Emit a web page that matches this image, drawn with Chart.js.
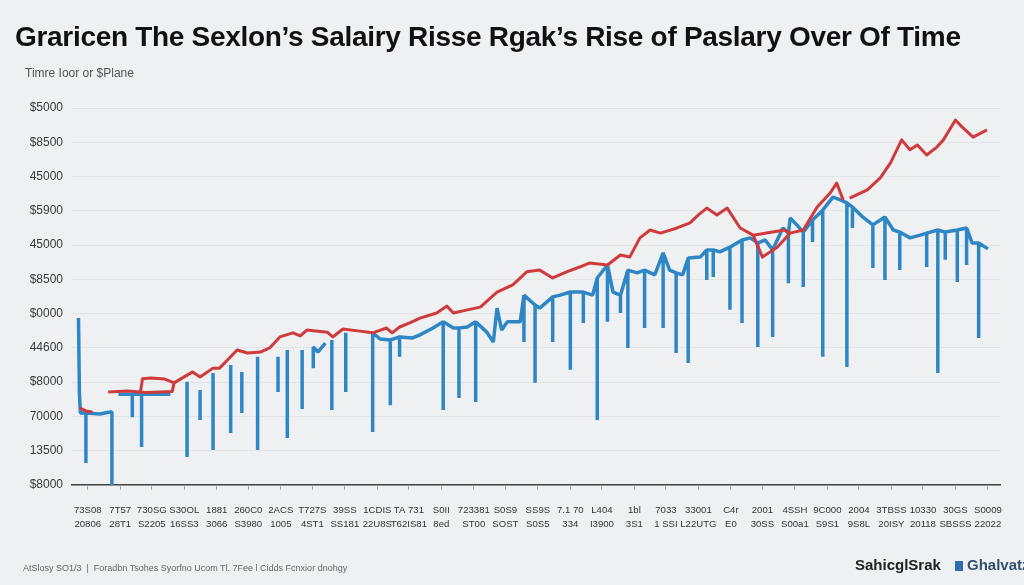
<!DOCTYPE html>
<html>
<head>
<meta charset="utf-8">
<script src="https://cdn.jsdelivr.net/npm/chart.js@4.4.1/dist/chart.umd.min.js"></script>
<style>
  html, body { margin: 0; padding: 0; }
  body { width: 1024px; height: 585px; overflow: hidden; background: #eef0f2; position: relative; font-family: "Liberation Sans", Arial, sans-serif; }
  #chart { position: absolute; left: 0; top: 0; }
  .title { position: absolute; left: 15px; top: 21px; font-size: 28px; font-weight: bold; color: #111; white-space: nowrap; letter-spacing: -0.3px; }
  .subtitle { position: absolute; left: 25px; top: 66px; font-size: 12px; color: #555; white-space: nowrap; }
  .source { position: absolute; left: 23px; top: 563px; font-size: 9px; color: #666; white-space: nowrap; }
  .brand { position: absolute; top: 556px; font-size: 15px; font-weight: bold; white-space: nowrap; }
  .brand-mark { position: absolute; left: 955px; top: 561px; width: 8px; height: 10px; background: #2f6fb0; }
</style>
</head>
<body>
<canvas id="chart" width="1024" height="585"></canvas>
<div class="title">Graricen The Sexlon’s Salairy Risse Rgak’s Rise of Paslary Over Of Time</div>
<div class="subtitle">Timre Ioor or $Plane</div>
<div class="source">AtSlosy SO1/3 &nbsp;|&nbsp; Foradbn Tsohes Syorfno Ucom Tl. 7Fee l Cidds Fcnxior dnohgy</div>
<div class="brand" style="left:855px;color:#222;">SahicglSrak</div>
<div class="brand-mark"></div>
<div class="brand" style="left:967px;color:#34506e;">Ghalvatz</div>

<script>
// y tick labels, bottom to top
const yTickLabels = ["$8000", "13500", "70000", "$8000", "44600", "$0000",
                     "$8500", "45000", "$5900", "45000", "$8500", "$5000"];

// x tick labels (two rows) and where they sit on the x scale
const xTickPos = [1.7, 5.2, 8.6, 12.1, 15.6, 19.0, 22.5, 25.9, 29.4, 32.9,
                  36.3, 39.8, 43.3, 46.7, 50.2, 53.7, 57.1, 60.6, 64.0, 67.5,
                  71.0, 74.4, 77.9, 81.4, 84.8, 88.3, 91.7, 95.2, 98.7];
const xRow1 = ["73S08", "7T57", "730SG", "S30OL", "1881", "260C0", "2ACS", "T727S", "39SS", "1CDIS",
               "TA 731", "S0II", "723381", "S0S9", "SS9S", "7.1 70", "L404", "1bl", "7033", "33001",
               "C4r", "2001", "4SSH", "9C000", "2004", "3TBSS", "10330", "30GS", "S0009"];
const xRow2 = ["20806", "28T1", "S2205", "16SS3", "3066", "S3980", "1005", "4ST1", "SS181", "22U8S",
               "T62IS81", "8ed", "ST00", "SOST", "S0S5", "334", "I3900", "3S1", "1 SSI", "L22UTG",
               "E0", "30SS", "S00a1", "S9S1", "9S8L", "20ISY", "20118", "SBSSS", "22022"];

// red series (salary)
const salaryX = [0.8, 1.5, 2.2, 3.0, 3.9, 6.0, 8.0, 10.8, 11.0, 10.0,
                 8.5, 7.6, 7.4, 7.6, 8.5, 10.0, 11.0, 13.0, 13.8, 15.2,
                 15.9, 17.8, 18.9, 20.3, 21.3, 22.4, 23.8, 24.6, 25.3, 27.5,
                 28.1, 29.2, 31.0, 32.4, 33.9, 34.5, 35.3, 36.4, 37.5, 39.3,
                 40.4, 41.1, 42.6, 44.0, 45.8, 47.5, 49.0, 50.4, 51.8, 53.3,
                 54.7, 55.8, 57.7, 59.1, 60.1, 61.2, 62.3, 63.4, 65.2, 66.6,
                 67.5, 68.4, 69.5, 70.6, 72.0, 73.4, 76.8, 77.4, 76.0, 74.4,
                 73.4, 74.4, 76.0, 77.4, 78.8, 80.3, 81.7, 82.4, 83.1, 83.5,
                 83.8, 85.7, 87.1, 88.2, 89.4, 90.3, 91.1, 92.1, 93.2, 93.9,
                 95.2, 95.9, 97.1, 98.6];
const salaryY = [22.5, 21.6, 21.3, null, 27.1, 27.4, 27.0, 27.3, 29.8, 30.9,
                 31.2, 31.0, 27.6, 31.0, 31.2, 30.9, 29.8, 33.0, 31.5, 34.1,
                 34.1, 39.4, 38.5, 38.8, 40.0, 43.2, 44.4, 43.5, 45.2, 44.6,
                 43.2, 45.5, 44.9, 44.4, 45.8, 44.4, 46.1, 47.3, 48.7, 50.2,
                 52.2, 50.2, 51.1, 51.9, 56.3, 58.4, 62.2, 62.7, 60.4, 62.2,
                 63.6, 64.8, 64.2, 67.1, 66.5, 72.1, 74.4, 73.5, 75.0, 76.5,
                 78.8, 80.8, 78.8, 80.8, 75.0, 72.9, 74.4, 73.5, 69.4, 66.5,
                 72.9, 66.5, 69.4, 73.5, 74.4, 81.1, 85.2, 88.1, 83.2, null,
                 83.7, 86.1, 89.6, 94.0, 100.7, 97.8, 99.2, 96.3, 98.6, 100.7,
                 106.5, 104.5, 101.5, 103.6];

// blue series: main line, plus the low value each downward spike reaches (null = no spike)
const adjX = [0.7, 0.8, 0.9, 1.5, 3.0, 4.1, 4.3, 4.6, 5.0, 6.5,
              7.5, 10.6, 11.5, 12.4, 13.1, 13.8, 14.5, 15.2, 16.1, 17.1,
              17.7, 18.3, 19.1, 20.0, 21.1, 22.2, 22.7, 23.2, 24.0, 24.8,
              25.4, 26.0, 26.5, 27.3, 27.6, 28.0, 28.7, 29.5, 31.0, 32.4,
              33.2, 34.3, 35.3, 36.7, 37.5, 38.9, 40.0, 41.1, 41.7, 42.6,
              43.5, 44.7, 45.4, 45.8, 46.3, 46.9, 48.3, 48.7, 49.9, 50.4,
              51.8, 52.6, 53.7, 55.1, 56.1, 56.6, 57.7, 58.3, 59.1, 59.9,
              60.9, 61.7, 62.8, 63.7, 64.4, 65.1, 65.8, 66.4, 67.7, 68.4,
              69.1, 69.8, 70.9, 72.2, 73.1, 73.9, 74.7, 75.5, 76.6, 77.2,
              77.4, 78.1, 78.8, 79.8, 80.9, 82.0, 82.8, 83.5, 84.1, 85.2,
              86.3, 87.6, 88.5, 89.2, 90.3, 91.4, 92.1, 93.3, 94.1, 95.4,
              96.4, 97.0, 97.7, 98.7];
const adjY = [48.7, 26.8, 21.0, 21.0, 20.7, 21.3, 21.3, null, 26.5, 26.5,
              26.5, 26.5, null, 30.1, null, 27.7, null, 32.7, null, 35.0,
              null, 33.0, null, 37.4, null, 37.4, null, 39.4, null, 39.4,
              null, 40.3, 38.8, 41.4, null, 42.3, null, 44.4, null, 44.4,
              42.6, 42.3, 43.2, 42.9, 43.8, 45.8, 47.6, 45.8, 45.8, 46.1,
              47.6, 44.6, 41.7, 51.6, 45.2, 47.6, 47.6, 55.4, 52.5, 51.6,
              54.9, 55.4, 56.3, 56.3, 55.4, 60.4, 64.2, 56.3, 55.4, 62.7,
              61.9, 62.7, 61.3, 67.7, 62.7, 61.9, 61.3, 66.2, 66.5, 68.6,
              68.6, 68.0, 69.4, 71.5, 72.1, 70.6, 71.5, 68.6, 75.0, 73.5,
              77.9, 75.9, 73.8, 77.3, 80.2, 84.0, 83.2, 82.3, 81.1, 78.2,
              75.9, 78.2, 74.4, 73.8, 72.1, 72.9, 73.5, 74.4, 73.8, 74.4,
              75.0, 70.6, 70.6, 68.9];
const adjDip = [null, null, null, 6.4, null, null, 0, null, null, 19.8,
                11.1, null, null, 8.2, null, 19.0, null, 10.2, null, 15.2,
                null, 21.0, null, 10.2, null, 27.1, null, 13.7, null, 22.2,
                null, 34.1, null, null, null, 21.9, null, 27.1, null, 15.5,
                null, 23.3, 37.4, null, null, null, 21.9, null, 25.4, null,
                24.2, null, null, null, null, null, null, 41.7, 29.8, null,
                41.7, null, 33.6, 47.3, null, 19.0, 47.6, null, 50.2, 40.0,
                null, 45.8, null, 45.8, null, 38.5, null, 35.6, null, 59.8,
                60.7, null, 51.1, 47.3, null, 40.3, null, 43.2, null, 58.9,
                null, null, 57.8, 70.9, 37.4, null, null, 34.4, 75.0, null,
                63.3, 59.8, null, 62.7, null, null, 63.6, 32.7, 65.7, 59.2,
                64.2, null, 42.9, null];

const salaryPoints = salaryX.map((x, i) => ({ x: x, y: salaryY[i] }));

const adjPoints = [];
adjX.forEach((x, i) => {
  adjPoints.push({ x: x, y: adjY[i] });
  if (adjDip[i] !== null && adjY[i] !== null) {
    adjPoints.push({ x: x, y: adjDip[i] });
    adjPoints.push({ x: x, y: adjY[i] });
  }
});

const ctx = document.getElementById("chart");
new Chart(ctx, {
  type: "line",
  data: {
    datasets: [
      {
        label: "Salary",
        data: salaryPoints,
        borderColor: "#cf3a3c",
        borderWidth: 3,
        borderJoinStyle: "round",
        pointRadius: 0,
        tension: 0,
        spanGaps: false,
      },
      {
        label: "Adjusted",
        data: adjPoints,
        borderColor: "#2f86c5",
        borderWidth: 3.5,
        borderJoinStyle: "bevel",
        pointRadius: 0,
        tension: 0,
        spanGaps: false,
      },
    ],
  },
  options: {
    responsive: false,
    devicePixelRatio: 1,
    animation: false,
    layout: { padding: { top: 108, right: 24, bottom: 0, left: 0 } },
    plugins: { legend: { display: false }, tooltip: { enabled: false } },
    scales: {
      x: {
        type: "linear",
        min: 0,
        max: 100,
        afterBuildTicks: (scale) => {
          scale.ticks = xTickPos.map((v) => ({ value: v }));
        },
        afterFit: (scale) => {
          scale.height = 100;
          scale.paddingLeft = 0;
          scale.paddingRight = 0;
        },
        ticks: {
          autoSkip: false,
          maxRotation: 0,
          minRotation: 0,
          padding: 13,
          color: "#333",
          font: { family: "Liberation Sans", size: 9.6, lineHeight: 1.5 },
          callback: (value, index) => [xRow1[index], xRow2[index]],
        },
        grid: { drawOnChartArea: false, tickLength: 5, tickColor: "#aaa" },
        border: { color: "#444", width: 1.5 },
      },
      y: {
        min: 0,
        max: 110,
        afterFit: (scale) => {
          scale.width = 72;
        },
        ticks: {
          stepSize: 10,
          padding: 9,
          color: "#3a3a3a",
          font: { family: "Liberation Sans", size: 12 },
          callback: (value) => yTickLabels[Math.round(value / 10)],
        },
        grid: { color: "#e1e4e7", drawTicks: false },
        border: { display: false },
      },
    },
  },
});
</script>
</body>
</html>
